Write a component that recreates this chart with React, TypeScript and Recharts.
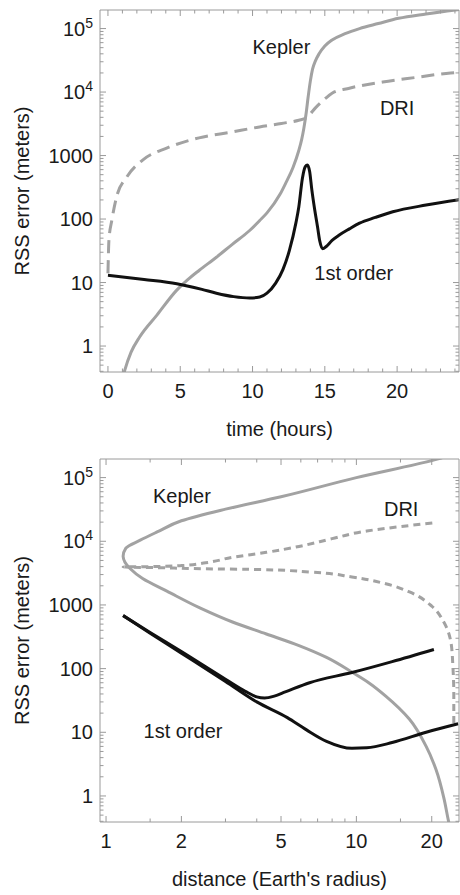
import { LineChart, Line, XAxis, YAxis, ReferenceDot } from "recharts";

const FRAME = "#9a9a9a";
const INK = "#1a1a1a";
const GREY = "#a2a2a2";
const BLACK = "#111111";
const FONT = "'Liberation Sans', Arial, Helvetica, sans-serif";

// top panel: RSS error (m) against time (hours)
const keplerByTime: [number, number][] = [
  [1.0, 0.3], [1.17, 0.42], [1.6, 0.8], [2.2, 1.4], [3.4, 3.1], [4.76, 7.6], [5.5, 11],
  [6.3, 15.5], [7.5, 25], [8.6, 40], [9.8, 66], [10.5, 95], [11.0, 125], [11.9, 245],
  [12.3, 370], [12.8, 650], [13.2, 1200], [13.4, 1800], [13.55, 2700], [13.7, 4500],
  [13.85, 8500], [14.0, 15000], [14.15, 23000], [14.35, 31000], [14.6, 40000], [15.0, 53000],
  [15.5, 66000], [16.4, 83000], [17.4, 100000], [18.7, 120000], [20.1, 145000],
  [22.0, 170000], [23.9, 195000], [24.3, 200000],
];
const driByTime: [number, number][] = [
  [0, 14], [0.07, 47], [0.27, 96], [0.6, 225], [1.3, 460], [2.4, 850], [4.1, 1320],
  [6.3, 1900], [8.6, 2350], [10, 2700], [12, 3200], [13.2, 3600], [13.7, 3900],
  [14.4, 5800], [15.0, 7800], [15.5, 9600], [16.7, 11500], [19, 14400], [21.3, 17000],
  [23.7, 20000], [24.3, 20500],
];
const firstByTime: [number, number][] = [
  [0, 13], [2.5, 11.2], [4.76, 9.6], [6.5, 7.8], [7.5, 6.8], [8.7, 6.0], [9.8, 5.7],
  [10.5, 5.9], [11.0, 6.8], [11.6, 9.8], [12.1, 16], [12.55, 32], [13.0, 87], [13.2, 155],
  [13.45, 440], [13.65, 670], [13.8, 710], [13.95, 560], [14.1, 290], [14.3, 140],
  [14.5, 74], [14.65, 45], [14.85, 34], [15.1, 37], [15.5, 46], [16.0, 56], [16.7, 70],
  [17.4, 86], [18.5, 106], [19.7, 130], [22, 166], [24.3, 202],
];

// bottom panel: same errors against distance (Earth radii), in time order
const keplerByDist: [number, number][] = [
  [23.7, 0.3], [23.2, 0.45], [22.4, 0.9], [20.8, 2.6], [19, 6], [16.3, 16], [13.1, 37],
  [11.2, 60], [9.6, 88], [7.6, 150], [5.9, 230], [4.37, 350], [3.2, 540], [2.37, 900],
  [1.75, 1650], [1.4, 2600], [1.25, 3700], [1.19, 4700], [1.17, 5800], [1.2, 7800],
  [1.37, 10400], [1.6, 14000], [2, 21000], [3, 32000], [5, 50000], [10, 100000],
  [20.5, 190000], [22, 205000],
];
const driByDist: [number, number][] = [
  [24.5, 14], [24.5, 40], [24.3, 107], [23.9, 250], [22.4, 530], [20, 960], [16.3, 1600],
  [13.1, 2150], [9.6, 2750], [6.5, 3300], [4.1, 3600], [2.5, 3700], [1.6, 3850], [1.17, 3950],
  [1.5, 4000], [2.0, 4150], [2.5, 4600], [3.2, 5600], [4.37, 6700], [5.9, 8300], [8, 11000],
  [11, 14500], [15, 17000], [20.3, 19500],
];
// 1st order: inbound leg (perigee outwards) and outbound leg
const firstInbound: [number, number][] = [
  [1.17, 680], [1.5, 360], [2, 175], [3, 63], [4, 30], [5.3, 17], [6.3, 11], [7.6, 7.2],
  [9.6, 5.6], [11, 5.7], [13.9, 6.9], [19, 10], [25.5, 13.6],
];
const firstOutbound: [number, number][] = [
  [1.17, 680], [1.5, 370], [2, 185], [3, 68], [3.6, 44], [4.0, 36], [4.3, 34.5], [4.7, 37],
  [5.2, 43], [6.5, 60], [9.6, 87], [13.9, 129], [20.4, 200],
];

const hourTicks = [0, 1, 2, 3, 4, 5, 6, 7, 8, 9, 10, 11, 12, 13, 14, 15, 16, 17, 18, 19, 20, 21, 22, 23, 24];
const hourMajor = [0, 5, 10, 15, 20];
const distTicks = [1, 1.5, 2, 3, 4, 5, 6, 7, 8, 9, 10, 15, 20];
const distMajor = [1, 2, 5, 10, 20];
const errMajor = [1, 10, 100, 1000, 10000, 100000];
const errDecades = [0.1, 1, 10, 100, 1000, 10000];
const minorSteps = [2, 3, 4, 5, 6, 7, 8, 9];

const timeDomain = [-0.55, 24.28];
const distDomain = [0.946, 25.7];
const errDomain = [0.39, 196000];

const errTicks = [
  ...errMajor,
  ...errDecades.flatMap((d) => minorSteps.map((m) => m * d)),
].filter((v) => v >= errDomain[0] && v <= errDomain[1]);

const pts = (arr: [number, number][]) => arr.map(([x, e]) => ({ x, e }));

function errLabel(v: number) {
  if (v >= 10000) {
    return (
      <>
        <tspan>10</tspan>
        <tspan dy={-8} fontSize={14}>
          {Math.round(Math.log10(v))}
        </tspan>
      </>
    );
  }
  return String(v);
}

const xTick = (majors: number[], side: "bottom" | "top") => (p: any) => {
  const { x, y, payload } = p;
  const major = majors.includes(payload.value);
  const len = major ? 6 : 3.5;
  const dir = side === "bottom" ? -1 : 1;
  return (
    <g>
      <line x1={x} x2={x} y1={y} y2={y + dir * len} stroke={FRAME} />
      {side === "bottom" && major && (
        <text x={x} y={y + 26} textAnchor="middle" fill={INK} fontSize={20}>
          {payload.value}
        </text>
      )}
    </g>
  );
};

const yTick = (side: "left" | "right") => (p: any) => {
  const { x, y, payload } = p;
  const major = errMajor.includes(payload.value);
  const len = major ? 6 : 3.5;
  const dir = side === "left" ? 1 : -1;
  return (
    <g>
      <line x1={x} x2={x + dir * len} y1={y} y2={y} stroke={FRAME} />
      {side === "left" && major && (
        <text x={x - 7} y={y + 7} textAnchor="end" fill={INK} fontSize={20}>
          {errLabel(payload.value)}
        </text>
      )}
    </g>
  );
};

const note = (value: string) => ({ value, position: "center" as const, fill: INK, fontSize: 20 });

function Frame({
  xDomain, xTicks, xMajor, xScale, xLabel,
}: { xDomain: number[]; xTicks: number[]; xMajor: number[]; xScale: "linear" | "log"; xLabel: string }) {
  return [
    <XAxis
      key="xb"
      dataKey="x"
      type="number"
      scale={xScale}
      domain={xDomain}
      allowDataOverflow
      ticks={xTicks}
      interval={0}
      tickSize={0}
      tickMargin={0}
      tickLine={false}
      stroke={FRAME}
      height={73}
      tick={xTick(xMajor, "bottom")}
      label={{ value: xLabel, position: "insideBottom", offset: 9, fill: INK, fontSize: 20 }}
    />,
    <XAxis
      key="xt"
      xAxisId="top"
      dataKey="x"
      orientation="top"
      type="number"
      scale={xScale}
      domain={xDomain}
      allowDataOverflow
      ticks={xTicks}
      interval={0}
      tickSize={0}
      tickMargin={0}
      tickLine={false}
      stroke={FRAME}
      height={1}
      tick={xTick(xMajor, "top")}
    />,
    <YAxis
      key="yl"
      type="number"
      scale="log"
      domain={errDomain}
      allowDataOverflow
      ticks={errTicks}
      interval={0}
      tickSize={0}
      tickMargin={0}
      tickLine={false}
      stroke={FRAME}
      width={100}
      tick={yTick("left")}
      label={{
        value: "RSS error (meters)",
        angle: -90,
        position: "insideLeft",
        offset: 22,
        fill: INK,
        fontSize: 20,
        style: { textAnchor: "middle" },
      }}
    />,
    <YAxis
      key="yr"
      yAxisId="right"
      orientation="right"
      type="number"
      scale="log"
      domain={errDomain}
      allowDataOverflow
      ticks={errTicks}
      interval={0}
      tickSize={0}
      tickMargin={0}
      tickLine={false}
      stroke={FRAME}
      width={1}
      tick={yTick("right")}
    />,
  ];
}

export default function App() {
  return (
    <div style={{ position: "absolute", left: 0, top: 0, width: 460, height: 895, background: "#fff", fontFamily: FONT }}>
      <LineChart width={460} height={445} margin={{ top: 9, right: 0, bottom: 0, left: 0 }}>
        {Frame({ xDomain: timeDomain, xTicks: hourTicks, xMajor: hourMajor, xScale: "linear", xLabel: "time (hours)" })}
        <Line data={pts(driByTime)} dataKey="e" type="monotone" stroke={GREY} strokeWidth={3} strokeDasharray="13 7" dot={false} isAnimationActive={false} />
        <Line data={pts(keplerByTime)} dataKey="e" type="monotone" stroke={GREY} strokeWidth={3} dot={false} isAnimationActive={false} />
        <Line data={pts(firstByTime)} dataKey="e" type="monotone" stroke={BLACK} strokeWidth={3} dot={false} isAnimationActive={false} />
        <ReferenceDot x={12} y={52000} r={0} stroke="none" label={note("Kepler")} />
        <ReferenceDot x={20} y={5600} r={0} stroke="none" label={note("DRI")} />
        <ReferenceDot x={17} y={14} r={0} stroke="none" label={note("1st order")} />
      </LineChart>
      <LineChart width={460} height={450} margin={{ top: 13, right: 0, bottom: 0, left: 0 }}>
        {Frame({ xDomain: distDomain, xTicks: distTicks, xMajor: distMajor, xScale: "log", xLabel: "distance (Earth's radius)" })}
        <Line data={pts(driByDist)} dataKey="e" type="monotoneY" stroke={GREY} strokeWidth={3} strokeDasharray="7 5" dot={false} isAnimationActive={false} />
        <Line data={pts(keplerByDist)} dataKey="e" type="monotoneY" stroke={GREY} strokeWidth={3} dot={false} isAnimationActive={false} />
        <Line data={pts(firstInbound)} dataKey="e" type="monotone" stroke={BLACK} strokeWidth={3} dot={false} isAnimationActive={false} />
        <Line data={pts(firstOutbound)} dataKey="e" type="monotone" stroke={BLACK} strokeWidth={3} dot={false} isAnimationActive={false} />
        <ReferenceDot x={2.01} y={52000} r={0} stroke="none" label={note("Kepler")} />
        <ReferenceDot x={15.1} y={32000} r={0} stroke="none" label={note("DRI")} />
        <ReferenceDot x={2.03} y={10.5} r={0} stroke="none" label={note("1st order")} />
      </LineChart>
    </div>
  );
}
